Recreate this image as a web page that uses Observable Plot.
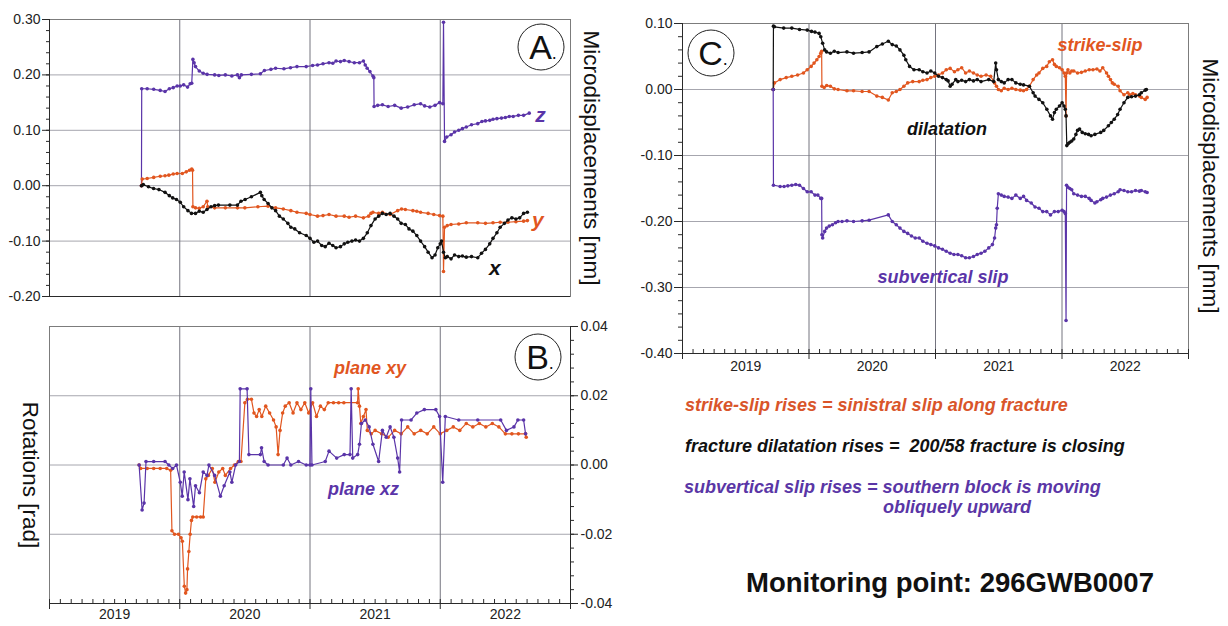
<!DOCTYPE html>
<html><head><meta charset="utf-8">
<script src="https://cdn.jsdelivr.net/npm/d3@7"></script>
<script src="https://cdn.jsdelivr.net/npm/@observablehq/plot@0.6"></script>
<style>
body{margin:0;background:#fff;font-family:"Liberation Sans",Arial,Helvetica,sans-serif;}
#root{position:relative;width:1228px;height:626px;overflow:hidden;background:#fff;}
.panel{position:absolute;}
.vlabel{position:absolute;writing-mode:vertical-rl;font-size:22.5px;color:#111;white-space:nowrap;transform:translate(-50%,-50%);line-height:1;}
.circ{position:absolute;width:47px;height:47px;border:1.4px solid #222;border-radius:50%;box-sizing:border-box;transform:translate(-50%,-50%);font-size:34px;line-height:45px;text-align:center;color:#111;padding-left:4px;}
.circ span{font-size:18px;}
.note{position:absolute;font-weight:bold;font-style:italic;font-size:18px;white-space:nowrap;line-height:20px;}
</style></head><body><div id="root"></div>
<script>
// ---------- DATA (decimal year, value) ----------
// Panel A: microdisplacements [mm]
const seriesAz = [[2019.706,0.000],[2019.708,0.175],[2019.75,0.175],[2019.80,0.174],[2019.85,0.172],[2019.887,0.170],[2019.92,0.175],[2019.95,0.177],[2019.98,0.180],[2020.004,0.180],[2020.03,0.182],[2020.06,0.178],[2020.08,0.184],[2020.092,0.185],[2020.101,0.228],[2020.11,0.222],[2020.121,0.215],[2020.15,0.207],[2020.18,0.203],[2020.21,0.201],[2020.268,0.200],[2020.30,0.199],[2020.35,0.200],[2020.40,0.198],[2020.443,0.200],[2020.458,0.195],[2020.473,0.200],[2020.55,0.201],[2020.619,0.202],[2020.65,0.208],[2020.70,0.210],[2020.736,0.212],[2020.80,0.211],[2020.85,0.213],[2020.90,0.215],[2020.971,0.215],[2021.02,0.217],[2021.058,0.218],[2021.10,0.220],[2021.146,0.222],[2021.175,0.221],[2021.20,0.225],[2021.234,0.224],[2021.263,0.226],[2021.30,0.224],[2021.34,0.222],[2021.38,0.222],[2021.41,0.225],[2021.424,0.218],[2021.439,0.212],[2021.46,0.206],[2021.483,0.198],[2021.490,0.195],[2021.492,0.143],[2021.52,0.145],[2021.556,0.146],[2021.60,0.143],[2021.65,0.145],[2021.70,0.140],[2021.75,0.142],[2021.80,0.146],[2021.849,0.148],[2021.88,0.144],[2021.92,0.142],[2021.96,0.145],[2021.995,0.150],[2022.020,0.148],[2022.025,0.295],[2022.033,0.080],[2022.05,0.088],[2022.083,0.092],[2022.11,0.097],[2022.142,0.100],[2022.17,0.103],[2022.20,0.106],[2022.24,0.110],[2022.288,0.112],[2022.32,0.116],[2022.347,0.117],[2022.38,0.118],[2022.405,0.120],[2022.435,0.121],[2022.47,0.122],[2022.50,0.123],[2022.53,0.125],[2022.56,0.125],[2022.60,0.127],[2022.64,0.127],[2022.683,0.131]];
const seriesAy = [[2019.706,0.000],[2019.712,0.012],[2019.75,0.013],[2019.80,0.015],[2019.85,0.017],[2019.887,0.018],[2019.916,0.019],[2019.95,0.021],[2019.98,0.022],[2020.02,0.022],[2020.05,0.025],[2020.075,0.028],[2020.092,0.030],[2020.098,0.028],[2020.101,-0.038],[2020.121,-0.040],[2020.15,-0.041],[2020.18,-0.038],[2020.209,-0.028],[2020.215,-0.038],[2020.268,-0.040],[2020.35,-0.040],[2020.443,-0.040],[2020.50,-0.040],[2020.60,-0.038],[2020.678,-0.037],[2020.736,-0.040],[2020.795,-0.042],[2020.853,-0.045],[2020.90,-0.048],[2020.971,-0.050],[2021.00,-0.052],[2021.058,-0.055],[2021.10,-0.054],[2021.146,-0.052],[2021.20,-0.055],[2021.263,-0.055],[2021.30,-0.057],[2021.35,-0.055],[2021.41,-0.058],[2021.45,-0.055],[2021.468,-0.050],[2021.483,-0.048],[2021.527,-0.050],[2021.556,-0.048],[2021.615,-0.052],[2021.673,-0.045],[2021.703,-0.042],[2021.732,-0.043],[2021.79,-0.045],[2021.82,-0.046],[2021.849,-0.048],[2021.907,-0.050],[2021.95,-0.052],[2021.995,-0.054],[2022.020,-0.055],[2022.025,-0.155],[2022.033,-0.075],[2022.054,-0.072],[2022.083,-0.070],[2022.142,-0.069],[2022.20,-0.067],[2022.288,-0.067],[2022.347,-0.068],[2022.405,-0.067],[2022.46,-0.066],[2022.52,-0.066],[2022.581,-0.065],[2022.64,-0.064],[2022.669,-0.063]];
const seriesAx = [[2019.706,0.000],[2019.72,0.002],[2019.76,-0.002],[2019.799,-0.005],[2019.84,-0.007],[2019.887,-0.012],[2019.92,-0.018],[2019.946,-0.022],[2019.975,-0.025],[2020.004,-0.030],[2020.03,-0.038],[2020.063,-0.045],[2020.09,-0.050],[2020.121,-0.050],[2020.15,-0.046],[2020.18,-0.048],[2020.209,-0.043],[2020.24,-0.038],[2020.268,-0.036],[2020.297,-0.035],[2020.385,-0.035],[2020.443,-0.035],[2020.47,-0.028],[2020.502,-0.025],[2020.55,-0.020],[2020.619,-0.012],[2020.63,-0.018],[2020.648,-0.025],[2020.678,-0.032],[2020.707,-0.040],[2020.736,-0.045],[2020.765,-0.055],[2020.795,-0.060],[2020.83,-0.068],[2020.853,-0.075],[2020.883,-0.078],[2020.92,-0.085],[2020.971,-0.090],[2021.00,-0.095],[2021.03,-0.102],[2021.058,-0.100],[2021.09,-0.108],[2021.117,-0.110],[2021.146,-0.104],[2021.175,-0.108],[2021.20,-0.112],[2021.234,-0.110],[2021.263,-0.105],[2021.29,-0.102],[2021.322,-0.100],[2021.35,-0.098],[2021.38,-0.100],[2021.41,-0.095],[2021.44,-0.085],[2021.468,-0.072],[2021.50,-0.060],[2021.527,-0.055],[2021.556,-0.050],[2021.585,-0.052],[2021.615,-0.050],[2021.645,-0.055],[2021.673,-0.060],[2021.70,-0.068],[2021.732,-0.070],[2021.76,-0.078],[2021.79,-0.082],[2021.82,-0.090],[2021.849,-0.100],[2021.88,-0.110],[2021.907,-0.120],[2021.937,-0.130],[2021.96,-0.125],[2021.981,-0.112],[2022.0,-0.105],[2022.01,-0.100],[2022.025,-0.120],[2022.039,-0.130],[2022.054,-0.128],[2022.083,-0.132],[2022.11,-0.125],[2022.142,-0.128],[2022.17,-0.127],[2022.20,-0.129],[2022.24,-0.128],[2022.288,-0.130],[2022.317,-0.122],[2022.347,-0.115],[2022.38,-0.105],[2022.405,-0.095],[2022.435,-0.085],[2022.46,-0.075],[2022.493,-0.068],[2022.52,-0.062],[2022.55,-0.058],[2022.581,-0.060],[2022.61,-0.058],[2022.64,-0.050],[2022.669,-0.048]];
// Panel B: rotations [rad]
const seriesBxy = [[2019.688,0.000],[2019.70,-0.001],[2019.75,-0.001],[2019.80,-0.001],[2019.85,-0.001],[2019.90,-0.001],[2019.93,-0.0015],[2019.94,-0.019],[2019.96,-0.020],[2019.99,-0.020],[2020.01,-0.021],[2020.02,-0.022],[2020.035,-0.035],[2020.045,-0.037],[2020.055,-0.036],[2020.06,-0.030],[2020.07,-0.025],[2020.08,-0.020],[2020.09,-0.016],[2020.10,-0.015],[2020.13,-0.015],[2020.16,-0.015],[2020.18,-0.015],[2020.20,-0.004],[2020.22,-0.003],[2020.25,-0.001],[2020.27,-0.005],[2020.30,-0.002],[2020.33,-0.001],[2020.35,-0.003],[2020.39,-0.001],[2020.42,0.000],[2020.45,0.001],[2020.47,0.001],[2020.50,0.018],[2020.52,0.019],[2020.55,0.019],[2020.57,0.015],[2020.59,0.014],[2020.61,0.016],[2020.63,0.014],[2020.66,0.017],[2020.69,0.015],[2020.72,0.013],[2020.74,0.011],[2020.755,0.003],[2020.77,0.010],[2020.79,0.015],[2020.81,0.017],[2020.84,0.018],[2020.87,0.015],[2020.90,0.018],[2020.93,0.016],[2020.96,0.018],[2020.99,0.015],[2021.02,0.018],[2021.05,0.014],[2021.08,0.017],[2021.11,0.016],[2021.14,0.018],[2021.18,0.018],[2021.22,0.018],[2021.26,0.018],[2021.365,0.018],[2021.37,0.022],[2021.38,0.017],[2021.39,0.012],[2021.41,0.014],[2021.43,0.016],[2021.44,0.010],[2021.47,0.009],[2021.50,0.010],[2021.55,0.009],[2021.60,0.008],[2021.65,0.010],[2021.70,0.009],[2021.75,0.011],[2021.80,0.009],[2021.85,0.010],[2021.90,0.009],[2021.95,0.011],[2022.00,0.009],[2022.05,0.010],[2022.10,0.011],[2022.15,0.010],[2022.20,0.012],[2022.25,0.011],[2022.30,0.012],[2022.35,0.011],[2022.40,0.012],[2022.45,0.011],[2022.50,0.009],[2022.55,0.009],[2022.60,0.009],[2022.655,0.009],[2022.66,0.008]];
const seriesBxz = [[2019.688,0.000],[2019.711,-0.013],[2019.726,-0.011],[2019.741,0.001],[2019.80,0.001],[2019.887,0.001],[2019.916,0.000],[2019.946,-0.001],[2019.975,0.000],[2020.004,-0.005],[2020.019,-0.009],[2020.034,-0.002],[2020.063,-0.010],[2020.078,-0.004],[2020.107,-0.012],[2020.121,-0.006],[2020.151,-0.008],[2020.18,-0.002],[2020.209,-0.003],[2020.224,0.000],[2020.268,-0.003],[2020.312,-0.009],[2020.341,-0.006],[2020.385,-0.002],[2020.40,-0.005],[2020.429,0.000],[2020.458,0.001],[2020.464,0.022],[2020.517,0.022],[2020.531,0.003],[2020.619,0.003],[2020.628,0.005],[2020.648,0.001],[2020.678,0.000],[2020.795,0.000],[2020.824,0.002],[2020.853,0.000],[2020.912,0.001],[2020.971,0.000],[2021.00,0.000],[2021.006,0.022],[2021.015,0.000],[2021.117,0.001],[2021.146,0.004],[2021.205,0.002],[2021.263,0.003],[2021.307,0.003],[2021.316,0.022],[2021.328,0.002],[2021.366,0.003],[2021.38,0.006],[2021.395,0.012],[2021.424,0.013],[2021.454,0.011],[2021.483,0.006],[2021.527,0.001],[2021.556,0.010],[2021.585,0.008],[2021.615,0.011],[2021.644,0.008],[2021.673,0.002],[2021.688,-0.002],[2021.703,0.013],[2021.776,0.013],[2021.82,0.015],[2021.878,0.016],[2021.966,0.016],[2021.995,0.014],[2022.019,-0.005],[2022.039,0.014],[2022.142,0.013],[2022.288,0.013],[2022.464,0.013],[2022.508,0.010],[2022.566,0.011],[2022.596,0.013],[2022.64,0.013],[2022.655,0.009]];
// Panel C: microdisplacements [mm]
const seriesCdil = [[2019.717,0.000],[2019.719,0.096],[2019.727,0.095],[2019.80,0.093],[2019.864,0.093],[2019.925,0.091],[2019.986,0.090],[2020.02,0.088],[2020.047,0.087],[2020.08,0.085],[2020.093,0.080],[2020.108,0.070],[2020.124,0.060],[2020.139,0.057],[2020.169,0.055],[2020.20,0.058],[2020.23,0.056],[2020.30,0.057],[2020.352,0.055],[2020.42,0.056],[2020.475,0.057],[2020.536,0.065],[2020.58,0.069],[2020.627,0.073],[2020.658,0.068],[2020.69,0.066],[2020.719,0.060],[2020.75,0.052],[2020.765,0.045],[2020.795,0.035],[2020.83,0.030],[2020.871,0.030],[2020.90,0.027],[2020.933,0.025],[2020.963,0.028],[2020.994,0.025],[2021.024,0.020],[2021.055,0.018],[2021.085,0.015],[2021.10,0.013],[2021.116,0.005],[2021.131,0.008],[2021.16,0.015],[2021.177,0.012],[2021.207,0.014],[2021.238,0.012],[2021.268,0.015],[2021.30,0.013],[2021.33,0.015],[2021.36,0.012],[2021.421,0.015],[2021.46,0.012],[2021.476,0.040],[2021.482,0.030],[2021.497,0.015],[2021.52,0.012],[2021.543,0.010],[2021.574,0.015],[2021.604,0.015],[2021.635,0.010],[2021.67,0.008],[2021.696,0.007],[2021.742,0.005],[2021.772,-0.005],[2021.787,-0.010],[2021.818,-0.015],[2021.848,-0.020],[2021.88,-0.030],[2021.909,-0.040],[2021.925,-0.045],[2021.94,-0.035],[2021.955,-0.030],[2021.98,-0.025],[2022.001,-0.020],[2022.016,-0.025],[2022.026,-0.030],[2022.032,-0.040],[2022.038,-0.085],[2022.05,-0.082],[2022.062,-0.080],[2022.077,-0.078],[2022.093,-0.075],[2022.11,-0.068],[2022.123,-0.062],[2022.139,-0.060],[2022.16,-0.065],[2022.184,-0.067],[2022.21,-0.068],[2022.23,-0.070],[2022.26,-0.068],[2022.306,-0.065],[2022.33,-0.062],[2022.367,-0.055],[2022.39,-0.050],[2022.413,-0.045],[2022.44,-0.038],[2022.459,-0.030],[2022.49,-0.020],[2022.52,-0.012],[2022.55,-0.011],[2022.581,-0.010],[2022.612,-0.008],[2022.627,-0.005],[2022.658,-0.001],[2022.667,0.000]];
const seriesCss = [[2019.717,0.000],[2019.727,0.010],[2019.772,0.015],[2019.82,0.018],[2019.864,0.020],[2019.91,0.022],[2019.956,0.025],[2019.986,0.030],[2020.017,0.035],[2020.04,0.040],[2020.062,0.045],[2020.08,0.050],[2020.093,0.055],[2020.10,0.058],[2020.102,0.005],[2020.12,0.003],[2020.14,0.006],[2020.169,0.005],[2020.20,0.001],[2020.23,0.000],[2020.30,-0.002],[2020.352,-0.002],[2020.42,-0.003],[2020.475,-0.003],[2020.536,-0.010],[2020.58,-0.012],[2020.627,-0.016],[2020.658,-0.005],[2020.69,-0.003],[2020.719,0.000],[2020.75,0.005],[2020.78,0.010],[2020.82,0.012],[2020.871,0.012],[2020.90,0.014],[2020.933,0.015],[2020.963,0.018],[2020.994,0.020],[2021.024,0.022],[2021.055,0.025],[2021.085,0.030],[2021.116,0.032],[2021.15,0.027],[2021.177,0.030],[2021.207,0.033],[2021.238,0.025],[2021.268,0.028],[2021.30,0.025],[2021.33,0.022],[2021.36,0.020],[2021.40,0.022],[2021.436,0.020],[2021.467,0.010],[2021.482,0.005],[2021.497,0.000],[2021.52,-0.002],[2021.543,0.002],[2021.574,0.000],[2021.604,0.002],[2021.635,0.000],[2021.67,-0.001],[2021.696,-0.002],[2021.72,0.000],[2021.742,0.005],[2021.772,0.015],[2021.80,0.022],[2021.818,0.025],[2021.848,0.032],[2021.879,0.035],[2021.90,0.042],[2021.925,0.045],[2021.94,0.038],[2021.955,0.035],[2021.98,0.033],[2022.001,0.030],[2022.016,0.025],[2022.026,0.020],[2022.032,-0.040],[2022.036,0.025],[2022.047,0.030],[2022.062,0.025],[2022.077,0.028],[2022.093,0.028],[2022.123,0.025],[2022.154,0.026],[2022.184,0.028],[2022.215,0.030],[2022.245,0.030],[2022.276,0.031],[2022.30,0.028],[2022.322,0.033],[2022.352,0.025],[2022.367,0.020],[2022.383,0.015],[2022.398,0.010],[2022.413,0.008],[2022.444,0.005],[2022.459,-0.002],[2022.49,-0.008],[2022.52,-0.005],[2022.535,-0.008],[2022.56,-0.006],[2022.581,-0.008],[2022.612,-0.010],[2022.627,-0.012],[2022.658,-0.015],[2022.673,-0.012]];
const seriesCsv = [[2019.717,0.000],[2019.719,-0.145],[2019.772,-0.147],[2019.803,-0.147],[2019.833,-0.146],[2019.864,-0.145],[2019.895,-0.144],[2019.925,-0.145],[2019.956,-0.150],[2019.986,-0.155],[2020.017,-0.155],[2020.047,-0.160],[2020.07,-0.160],[2020.093,-0.165],[2020.10,-0.165],[2020.102,-0.220],[2020.108,-0.225],[2020.124,-0.215],[2020.139,-0.210],[2020.16,-0.207],[2020.185,-0.205],[2020.21,-0.202],[2020.23,-0.200],[2020.261,-0.200],[2020.30,-0.199],[2020.352,-0.200],[2020.42,-0.199],[2020.475,-0.198],[2020.627,-0.190],[2020.658,-0.200],[2020.69,-0.205],[2020.719,-0.210],[2020.75,-0.215],[2020.78,-0.218],[2020.81,-0.222],[2020.84,-0.225],[2020.871,-0.225],[2020.90,-0.230],[2020.933,-0.233],[2020.963,-0.235],[2020.994,-0.237],[2021.024,-0.240],[2021.055,-0.242],[2021.085,-0.245],[2021.116,-0.248],[2021.146,-0.250],[2021.177,-0.250],[2021.207,-0.252],[2021.238,-0.255],[2021.268,-0.255],[2021.30,-0.253],[2021.33,-0.250],[2021.36,-0.248],[2021.39,-0.245],[2021.421,-0.240],[2021.45,-0.235],[2021.467,-0.225],[2021.476,-0.210],[2021.482,-0.205],[2021.488,-0.180],[2021.497,-0.158],[2021.52,-0.160],[2021.543,-0.162],[2021.574,-0.163],[2021.604,-0.165],[2021.635,-0.160],[2021.67,-0.165],[2021.696,-0.162],[2021.72,-0.168],[2021.757,-0.172],[2021.787,-0.178],[2021.818,-0.180],[2021.848,-0.185],[2021.879,-0.185],[2021.909,-0.190],[2021.94,-0.185],[2021.97,-0.185],[2022.001,-0.183],[2022.016,-0.185],[2022.026,-0.188],[2022.032,-0.350],[2022.036,-0.145],[2022.047,-0.148],[2022.062,-0.150],[2022.077,-0.152],[2022.093,-0.158],[2022.123,-0.160],[2022.154,-0.162],[2022.184,-0.162],[2022.215,-0.165],[2022.23,-0.168],[2022.26,-0.172],[2022.276,-0.170],[2022.306,-0.167],[2022.322,-0.165],[2022.352,-0.163],[2022.383,-0.160],[2022.413,-0.158],[2022.444,-0.155],[2022.459,-0.152],[2022.49,-0.153],[2022.52,-0.155],[2022.55,-0.155],[2022.581,-0.153],[2022.612,-0.154],[2022.627,-0.153],[2022.658,-0.155],[2022.673,-0.156]];

// ticks & labels
const yearBounds = [2019, 2020, 2021, 2022, 2023];
const innerYears = [2020, 2021, 2022];
const yearLabelPos = [2019.5, 2020.5, 2021.5, 2022.5];
const yearLabels = ["2019", "2020", "2021", "2022"];
const monthTicks = d3.range(0, 49).map(i => 2019 + i / 12);
const majorA = [-0.2, -0.1, 0, 0.1, 0.2, 0.3];
const minorA = d3.range(0, 26).map(i => -0.2 + i * 0.02);
const gridA = [-0.1, 0, 0.1, 0.2];
const majorB = [-0.04, -0.02, 0, 0.02, 0.04];
const minorB = d3.range(0, 21).map(i => -0.04 + i * 0.004);
const gridB = [-0.02, 0, 0.02];
const majorC = [-0.4, -0.3, -0.2, -0.1, 0, 0.1];
const minorC = d3.range(0, 26).map(i => -0.4 + i * 0.02);
const gridC = [-0.3, -0.2, -0.1, 0];
// in-plot series labels (data units)
const labelsA = [{s: "z", text: "z", t: 2022.77, v: 0.127}, {s: "y", text: "y", t: 2022.75, v: -0.063}, {s: "x", text: "x", t: 2022.42, v: -0.149}];
const labelsB = [{s: "xy", text: "plane xy", t: 2021.46, v: 0.0279}, {s: "xz", text: "plane xz", t: 2021.41, v: -0.0071}];
const labelsC = [{s: "ss", text: "strike-slip", t: 2022.30, v: 0.0667}, {s: "dil", text: "dilatation", t: 2021.09, v: -0.0606}, {s: "sv", text: "subvertical slip", t: 2021.06, v: -0.285}];

// ---------- STYLE ----------
const ORANGE = "#e1561f", PURPLE = "#5a34a8", BLACK = "#111111";
const colorOf = {z: PURPLE, y: ORANGE, x: BLACK, xy: ORANGE, xz: PURPLE, ss: ORANGE, dil: BLACK, sv: PURPLE};
const GRID = "#a6a6ae", VGRID = "#74747f", FRAME = "#7c7c7c", AXIS = "#2a2a2a";
const FONT = '"Liberation Sans", Arial, Helvetica, sans-serif';
const fmt2 = d => (Math.abs(d) < 1e-9 ? 0 : d).toFixed(2);

function series(pairs, color) {
  return [
    Plot.line(pairs, {x: d => d[0], y: d => d[1], stroke: color, strokeWidth: 1.2}),
    Plot.dot(pairs, {x: d => d[0], y: d => d[1], fill: color, stroke: "none", r: 1.8})
  ];
}
function seriesLabels(arr, size) {
  return Plot.text(arr, {x: "t", y: "v", text: "text", fill: d => colorOf[d.s], fontSize: size, fontWeight: "bold", fontStyle: "italic"});
}
function xAxisMarks(pad) {
  return [
    Plot.axisX(monthTicks, {anchor: "bottom", label: null, tickSize: -4, tickFormat: () => "", stroke: AXIS}),
    Plot.axisX(yearBounds, {anchor: "bottom", label: null, tickSize: 6, tickFormat: () => "", stroke: AXIS}),
    Plot.axisX(yearLabelPos, {anchor: "bottom", label: null, tickSize: 0, tickPadding: pad, tickFormat: (d, i) => yearLabels[i], fill: "#222"})
  ];
}
const baseStyle = {fontFamily: FONT, fontSize: "14px", color: "#222", background: "transparent", overflow: "visible"};

const plotA = Plot.plot({
  width: 620, height: 310, marginLeft: 49, marginRight: 50, marginTop: 19, marginBottom: 14,
  x: {domain: [2019, 2023], axis: null, label: null}, y: {domain: [-0.2, 0.3], axis: null, label: null},
  style: baseStyle,
  marks: [
    Plot.ruleY(gridA, {stroke: GRID}),
    Plot.ruleX(innerYears, {stroke: VGRID}),
    Plot.frame({stroke: FRAME}),
    Plot.axisY(minorA, {anchor: "left", label: null, tickSize: 3, tickFormat: () => "", stroke: AXIS}),
    Plot.axisY(majorA, {anchor: "left", label: null, tickSize: 7, tickPadding: 2, tickFormat: fmt2, stroke: AXIS, fill: "#222"}),
    Plot.ruleX([2019], {stroke: AXIS}),
    Plot.ruleY([-0.2], {stroke: AXIS}),
    ...series(seriesAz, PURPLE), ...series(seriesAy, ORANGE), ...series(seriesAx, BLACK),
    seriesLabels(labelsA, 21)
  ]
});

const plotB = Plot.plot({
  width: 620, height: 326, marginLeft: 49, marginRight: 50, marginTop: 26, marginBottom: 23,
  x: {domain: [2019, 2023], axis: null, label: null}, y: {domain: [-0.04, 0.04], axis: null, label: null},
  style: baseStyle,
  marks: [
    Plot.ruleY(gridB, {stroke: GRID}),
    Plot.ruleX(innerYears, {stroke: VGRID}),
    Plot.frame({stroke: FRAME}),
    Plot.axisY(minorB, {anchor: "right", label: null, tickSize: 3, tickFormat: () => "", stroke: AXIS}),
    Plot.axisY(majorB, {anchor: "right", label: null, tickSize: 7, tickPadding: 3, tickFormat: fmt2, stroke: AXIS, fill: "#222"}),
    Plot.ruleX([2023], {stroke: AXIS}),
    Plot.ruleY([-0.04], {stroke: AXIS}),
    ...xAxisMarks(6),
    ...series(seriesBxy, ORANGE), ...series(seriesBxz, PURPLE),
    seriesLabels(labelsB, 18)
  ]
});

const plotC = Plot.plot({
  width: 608, height: 380, marginLeft: 62, marginRight: 40, marginTop: 23, marginBottom: 27,
  x: {domain: [2019, 2023], axis: null, label: null}, y: {domain: [-0.4, 0.1], axis: null, label: null},
  style: baseStyle,
  marks: [
    Plot.ruleY(gridC, {stroke: GRID}),
    Plot.ruleX(innerYears, {stroke: VGRID}),
    Plot.frame({stroke: FRAME}),
    Plot.axisY(minorC, {anchor: "left", label: null, tickSize: 4, tickFormat: () => "", stroke: AXIS}),
    Plot.axisY(majorC, {anchor: "left", label: null, tickSize: 8, tickPadding: 2, tickFormat: fmt2, stroke: AXIS, fill: "#222"}),
    Plot.ruleX([2019], {stroke: AXIS}),
    Plot.ruleY([-0.4], {stroke: AXIS}),
    ...xAxisMarks(8),
    ...series(seriesCss, ORANGE), ...series(seriesCdil, BLACK), ...series(seriesCsv, PURPLE),
    seriesLabels(labelsC, 18)
  ]
});

const root = document.getElementById("root");
function place(el, left, top) {
  const w = document.createElement("div");
  w.className = "panel"; w.style.left = left + "px"; w.style.top = top + "px";
  w.appendChild(el); root.appendChild(w);
}
place(plotA, 0, 0);
place(plotB, 0, 300);
place(plotC, 620, 0);

function html(str) { root.insertAdjacentHTML("beforeend", str); }
html(`<div class="vlabel" style="left:591px;top:158px">Microdisplacements [mm]</div>`);
html(`<div class="vlabel" style="left:1210px;top:186px">Microdisplacements [mm]</div>`);
html(`<div class="vlabel" style="left:30px;top:475px">Rotations [rad]</div>`);
html(`<div class="circ" style="left:541px;top:47px">A<span>.</span></div>`);
html(`<div class="circ" style="left:538px;top:357px">B<span>.</span></div>`);
html(`<div class="circ" style="left:711px;top:53px">C<span>.</span></div>`);
html(`<div class="note" style="left:685px;top:395px;color:#d9552a">strike-slip rises = sinistral slip along fracture</div>`);
html(`<div class="note" style="left:685px;top:436px;color:#111">fracture dilatation rises =&nbsp; 200/58 fracture is closing</div>`);
html(`<div class="note" style="left:684px;top:477px;color:#5a36a6">subvertical slip rises = southern block is moving</div>`);
html(`<div class="note" style="left:883px;top:497px;color:#5a36a6">obliquely upward</div>`);
html(`<div class="note" style="left:746px;top:567px;color:#111;font-style:normal;font-size:27.5px;line-height:32px">Monitoring point: 296GWB0007</div>`);
</script>
</body></html>
